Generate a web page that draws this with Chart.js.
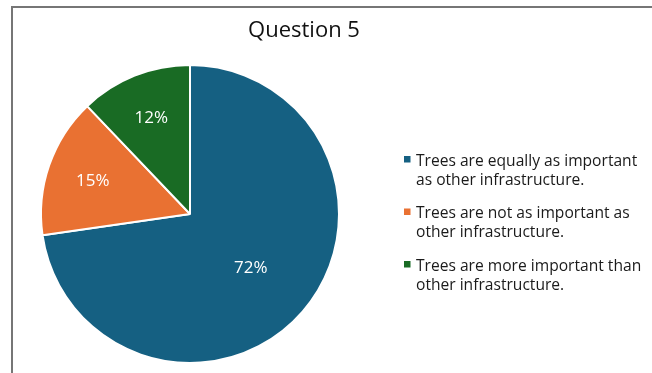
<!DOCTYPE html>
<html>
<head>
<meta charset="utf-8">
<title>Question 5</title>
<script src="https://cdn.jsdelivr.net/npm/chart.js@4.4.0/dist/chart.umd.min.js"></script>
<style>
  html, body { margin: 0; padding: 0; background: #fff; }
  #wrap { position: relative; width: 652px; height: 373px; }
</style>
</head>
<body>
<div id="wrap"><canvas id="pieChart" width="652" height="373"></canvas></div>
<script>
// Survey answers for question 5
const chartTitle = "Question 5";
const categories = [
  ["Trees are equally as important", "as other infrastructure."],
  ["Trees are not as important as", "other infrastructure."],
  ["Trees are more important than", "other infrastructure."],
];
const percentages = [72, 15, 12];
const sliceColors = ["#156082", "#E97132", "#196B24"];

const FONT = "'Open Sans', 'Noto Sans', sans-serif";

// gray frame along the top and left edge
const framePlugin = {
  id: "frame",
  beforeDraw(chart) {
    const ctx = chart.ctx;
    ctx.save();
    ctx.fillStyle = "#767676";
    ctx.fillRect(11, 6, 2, chart.height - 6);
    ctx.fillRect(11, 6, chart.width - 11, 2);
    ctx.restore();
  },
};

// title is centred on the whole panel, not on the pie
const titlePlugin = {
  id: "panelTitle",
  afterDraw(chart) {
    const ctx = chart.ctx;
    ctx.save();
    ctx.font = `22px ${FONT}`;
    ctx.fillStyle = "#111111";
    ctx.textAlign = "center";
    ctx.textBaseline = "alphabetic";
    ctx.fillText(chartTitle, 304, 37);
    ctx.restore();
  },
};

// percentage labels inside each slice
const labelRadius = [0.54, 0.69, 0.7];
const sliceLabelPlugin = {
  id: "sliceLabels",
  afterDatasetsDraw(chart) {
    const ctx = chart.ctx;
    const meta = chart.getDatasetMeta(0);
    ctx.save();
    ctx.font = `17px ${FONT}`;
    ctx.fillStyle = "#ffffff";
    ctx.textAlign = "center";
    ctx.textBaseline = "middle";
    meta.data.forEach((arc, i) => {
      const { x, y, startAngle, endAngle, outerRadius } = arc.getProps(
        ["x", "y", "startAngle", "endAngle", "outerRadius"],
        true
      );
      const mid = (startAngle + endAngle) / 2;
      const r = outerRadius * labelRadius[i];
      const value = chart.data.datasets[0].data[i];
      ctx.fillText(value + "%", x + Math.cos(mid) * r, y + Math.sin(mid) * r + 1);
    });
    ctx.restore();
  },
};

// legend on the right with two-line entries
const sideLegendPlugin = {
  id: "sideLegend",
  afterDraw(chart) {
    const ctx = chart.ctx;
    const left = 404;
    const textX = 416;
    const firstBaseline = 165.5;
    const entryGap = 52.5;
    const lineHeight = 19;
    ctx.save();
    ctx.font = `15.6px ${FONT}`;
    ctx.textAlign = "left";
    ctx.textBaseline = "alphabetic";
    chart.data.labels.forEach((lines, i) => {
      const base = firstBaseline + i * entryGap;
      ctx.fillStyle = sliceColors[i];
      ctx.fillRect(left, base - 9.5, 6.5, 6.5);
      ctx.fillStyle = "#1a1a1a";
      lines.forEach((line, j) => {
        ctx.fillText(line, textX, base + j * lineHeight);
      });
    });
    ctx.restore();
  },
};

const ctx = document.getElementById("pieChart").getContext("2d");
new Chart(ctx, {
  type: "pie",
  data: {
    labels: categories,
    datasets: [
      {
        data: percentages,
        backgroundColor: sliceColors,
        borderColor: "#ffffff",
        borderWidth: 2,
      },
    ],
  },
  options: {
    responsive: false,
    animation: false,
    layout: {
      padding: { left: 40, right: 312, top: 64, bottom: 9 },
    },
    plugins: {
      legend: { display: false },
      title: { display: false },
      tooltip: { enabled: false },
    },
  },
  plugins: [framePlugin, titlePlugin, sliceLabelPlugin, sideLegendPlugin],
});
</script>
</body>
</html>
